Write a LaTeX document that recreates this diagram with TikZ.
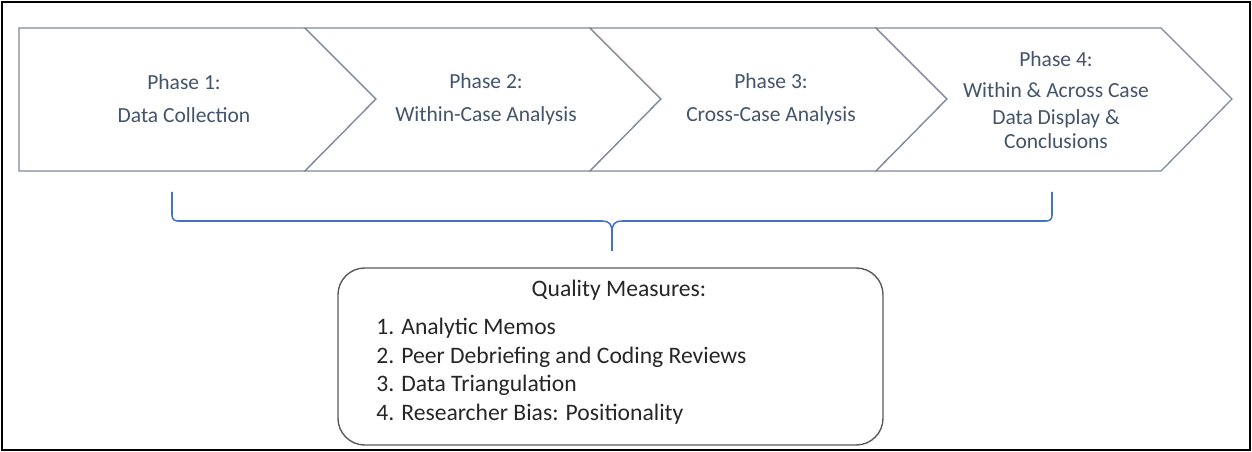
\documentclass[tikz,border=0pt]{standalone}
\usepackage{fontspec}
\setmainfont{Carlito}
\definecolor{phasetext}{RGB}{68,84,106}
\definecolor{chevronline}{RGB}{128,138,154}
\definecolor{bracecol}{RGB}{68,114,196}
\definecolor{boxline}{RGB}{90,90,90}

\begin{document}
\begin{tikzpicture}[x=0.025cm, y=-0.025cm,
	chevron/.style={draw=chevronline, line width=0.9pt, fill=white, line join=miter},
	phase/.style={text=phasetext, align=center, inner sep=0pt, font=\fontsize{15.3pt}{23.5pt}\selectfont},
	bracket/.style={draw=bracecol, line width=1.1pt},
	measure/.style={text=black!85, inner sep=0pt, font=\fontsize{16.8pt}{20.3pt}\selectfont}]
	\useasboundingbox (0,0) rectangle (1252,452);
	\draw[line width=1.8pt] (2,2) rectangle (1250,450);

	% the four phase chevrons
	\draw[chevron] (19,28) -- (305,28) -- (376,99) -- (305,171) -- (19,171) -- cycle;
	\draw[chevron] (305,28) -- (590,28) -- (661,99) -- (590,171) -- (305,171) -- (376,99) -- cycle;
	\draw[chevron] (590,28) -- (876,28) -- (947,99) -- (876,171) -- (590,171) -- (661,99) -- cycle;
	\draw[chevron] (876,28) -- (1161,28) -- (1232,99) -- (1161,171) -- (876,171) -- (947,99) -- cycle;

	\node[phase] (p1) at (184,99) {Phase 1:\\Data Collection};
	\node[phase] (p2) at (486,99) {Phase 2:\\Within-Case Analysis};
	\node[phase] (p3) at (771,99) {Phase 3:\\Cross-Case Analysis};
	\node[phase, font=\fontsize{15.3pt}{18pt}\selectfont] (p4) at (1056,100)
		{Phase 4:\\[4.5pt]Within \& Across Case\\[1pt]Data Display \&\\[-1pt]Conclusions};

	% brace under the phases
	\coordinate (bl) at (172,192);
	\coordinate (br) at (1052,192);
	\coordinate (tip) at (612,251);
	\draw[bracket] (bl) -- (172,215) .. controls (172,219) and (174,221) .. (178,221) -- (602,221)
		.. controls (609,221) and (612,224) .. (612,232) -- (tip);
	\draw[bracket] (tip) -- (612,232) .. controls (612,224) and (615,221) .. (622,221) -- (1046,221)
		.. controls (1050,221) and (1052,219) .. (1052,215) -- (br);

	% quality measures box
	\draw[draw=boxline, line width=1pt, rounded corners=19pt] (338,268) rectangle (883,445);
	\node[measure] (qm) at (619,290) {Quality Measures:};
	\node[measure, align=left, anchor=west] (qlist) at (376,371)
		{1. Analytic Memos\\2. Peer Debriefing and Coding Reviews\\3. Data Triangulation\\4. Researcher Bias: Positionality};
\end{tikzpicture}
\end{document}
